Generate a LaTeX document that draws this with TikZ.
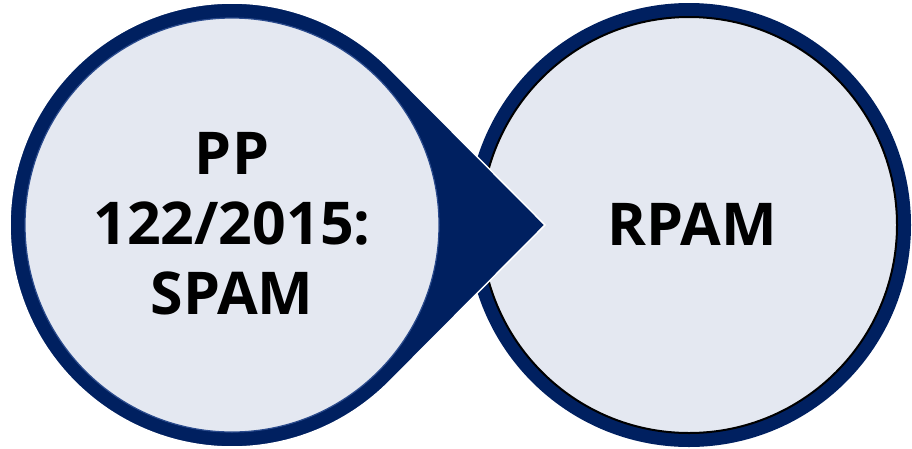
\documentclass[tikz,border=0pt]{standalone}
\usepackage{fontspec}
\setmainfont{Open Sans}
\definecolor{navy}{HTML}{002060}
\definecolor{lightfill}{HTML}{E4E8F1}
\definecolor{rimblue}{HTML}{2A4A8C}
\tikzset{
  disc/.style={circle, inner sep=0pt, outer sep=0pt},
  label text/.style={font=\bfseries\fontsize{59}{70}\selectfont, align=center, text=black}
}
\begin{document}
\begin{tikzpicture}[x=1pt, y=-1pt]
\useasboundingbox[fill=white] (0,0) rectangle (912,448);
% right circle
\node[disc, minimum size=444pt, fill=navy] (rout) at (689,225) {};
\node[disc, minimum size=416pt, fill=lightfill, draw=black, line width=2pt] (rin) at (689,225) {};
% left teardrop
\coordinate (lc) at (232,225);
\coordinate (apex) at (545,225);
\fill[navy, draw=white, line width=1.5pt, line join=miter]
  (apex) -- ([shift={(lc)}]44.8:222) arc[start angle=44.8, end angle=315.2, radius=222] -- cycle;
\node[disc, minimum size=414pt, fill=lightfill, draw=rimblue, line width=1.2pt] (lin) at (lc) {};
% texts
\node[label text] (ltext) at (232,224) {PP\\122/2015:\\SPAM};
\node[label text] (rtext) at (692,224) {RPAM};
\end{tikzpicture}
\end{document}
